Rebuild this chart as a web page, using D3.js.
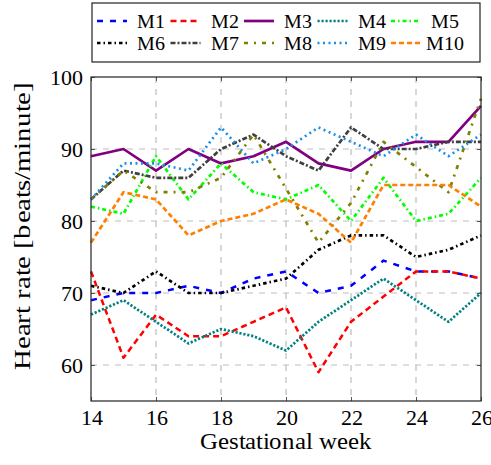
<!DOCTYPE html>
<html><head><meta charset="utf-8">
<script src="https://cdn.jsdelivr.net/npm/d3@7"></script>
<style>
@font-face{font-family:"CMX";src:local("Liberation Serif"),local("LiberationSerif"),local("LiberationSerif-Regular"),local("DejaVu Serif"),local("DejaVuSerif"),local("Times New Roman");}
body{margin:0;background:#fff}svg{display:block}
svg text{font-family:"CMX","Liberation Serif","DejaVu Serif",Georgia,serif !important;fill:#000}
</style>
</head><body><div id="c"></div>
<script>
const weeks = [14,15,16,17,18,19,20,21,22,23,24,25,26];
const seriesNames = ["M1","M2","M3","M4","M5","M6","M7","M8","M9","M10"];
const M1 = [69,70,70,71,70,72,73,70,71,74.5,73,73,72];
const M2 = [73,61,67,64,64,66,68,59,66,69.5,73,73,72];
const M3 = [89,90,87,90,88,89,91,88,87,90,91,91,96];
const M4 = [67,69,66,63,65,64,62,66,69,72,69,66,70];
const M5 = [82,81,89,83,88,84,83,85,80,86,80,81,86];
const M6 = [71,70,73,70,70,71,72,76,78,78,75,76,78];
const M7 = [83,87,86,86,90,92,89,87,93,90,90,91,91];
const M8 = [83,87,84,84,86,92,84.5,77,82.5,91,87.5,84,97];
const M9 = [83,88,88,87,93,88,90,93,91,89,92,89,92];
const M10 = [77,84,83,78,80,81,83,81,77,85,85,85,82];
const xTicks = [14,16,18,20,22,24,26];
const yTicks = [60,70,80,90,100];

const values = [M1,M2,M3,M4,M5,M6,M7,M8,M9,M10];
const colors = ["#0000ff","#ff0000","#800080","#008080","#00ff00","#000000","#404040","#808000","#1e8fe6","#ff8000"];
const dashes = ["6,7","6,4",null,"2.2,1.8","4,3,1.5,3","3.5,3,1.5,3","5,2,2,2","4,6,2,6","2,3.5","5,3"];
const widths = [2.5,2.5,2.7,2.7,2.7,2.7,2.7,2.7,2.7,2.7];

const W=491,H=465;
const L=91,R=481,T=77,B=401;
const svg=d3.select("#c").append("svg").attr("width",W).attr("height",H);
const x=d3.scaleLinear().domain([14,26]).range([L,R]);
const y=d3.scaleLinear().domain([55,100]).range([B,T]);

const g=svg.append("g");
g.selectAll("line.gx").data(xTicks.slice(1,-1)).join("line")
 .attr("x1",d=>x(d)).attr("x2",d=>x(d)).attr("y1",T).attr("y2",B)
 .attr("stroke","#bdbdbd").attr("stroke-width",1.2).attr("stroke-dasharray","6,6");
g.selectAll("line.gy").data(yTicks.slice(0,-1)).join("line")
 .attr("x1",L).attr("x2",R).attr("y1",d=>y(d)).attr("y2",d=>y(d))
 .attr("stroke","#bdbdbd").attr("stroke-width",1.2).attr("stroke-dasharray","6,6");

svg.append("g").attr("transform",`translate(0,${B})`)
 .call(d3.axisBottom(x).tickValues(xTicks).tickSize(-4).tickPadding(8).tickFormat(d3.format("d")));
svg.append("g").attr("transform",`translate(${L},0)`)
 .call(d3.axisLeft(y).tickValues(yTicks).tickSize(-4).tickPadding(8).tickFormat(d3.format("d")));
svg.append("g").attr("transform",`translate(0,${T})`).call(d3.axisTop(x).tickValues(xTicks).tickSize(-4).tickFormat(""));
svg.append("g").attr("transform",`translate(${R},0)`).call(d3.axisRight(y).tickValues(yTicks).tickSize(-4).tickFormat(""));
svg.selectAll(".domain").remove();
svg.selectAll("g").attr("font-family",null);
svg.selectAll(".tick line").attr("stroke","#555");
svg.selectAll(".tick text").attr("font-size",22);

const line=d3.line().x((d,i)=>x(weeks[i])).y(d=>y(d));
const lg=svg.append("g");
values.forEach((v,k)=>{
  lg.append("path").datum(v).attr("d",line).attr("fill","none")
   .attr("stroke",colors[k]).attr("stroke-width",widths[k])
   .attr("stroke-dasharray",dashes[k]).attr("stroke-linejoin","round");
});

svg.append("rect").attr("x",L).attr("y",T).attr("width",R-L).attr("height",B-T)
 .attr("fill","none").attr("stroke","#222").attr("stroke-width",1.2);

svg.append("text").attr("x",(L+R)/2).attr("y",449).attr("text-anchor","middle").attr("font-size",23)
 .attr("textLength",172).attr("lengthAdjust","spacingAndGlyphs").text("Gestational week");
svg.append("text").attr("transform","translate(30,226) rotate(-90)").attr("text-anchor","middle").attr("font-size",23)
 .attr("textLength",288).attr("lengthAdjust","spacingAndGlyphs").text("Heart rate [beats/minute]");

svg.append("rect").attr("x",92).attr("y",3).attr("width",388).attr("height",59)
 .attr("fill","#fff").attr("stroke","#222").attr("stroke-width",1.2);
seriesNames.forEach((n,k)=>{
  const col=k%5,row=Math.floor(k/5);
  const cy=row===0?21:43;
  const x0=97+73.5*col;
  svg.append("line").attr("x1",x0).attr("x2",x0+30).attr("y1",cy).attr("y2",cy)
   .attr("stroke",colors[k]).attr("stroke-width",widths[k]).attr("stroke-dasharray",dashes[k]);
  svg.append("text").attr("x",151+73.5*col).attr("y",cy+7).attr("text-anchor","middle")
   .attr("font-size",20).text(n);
});
</script></body></html>
